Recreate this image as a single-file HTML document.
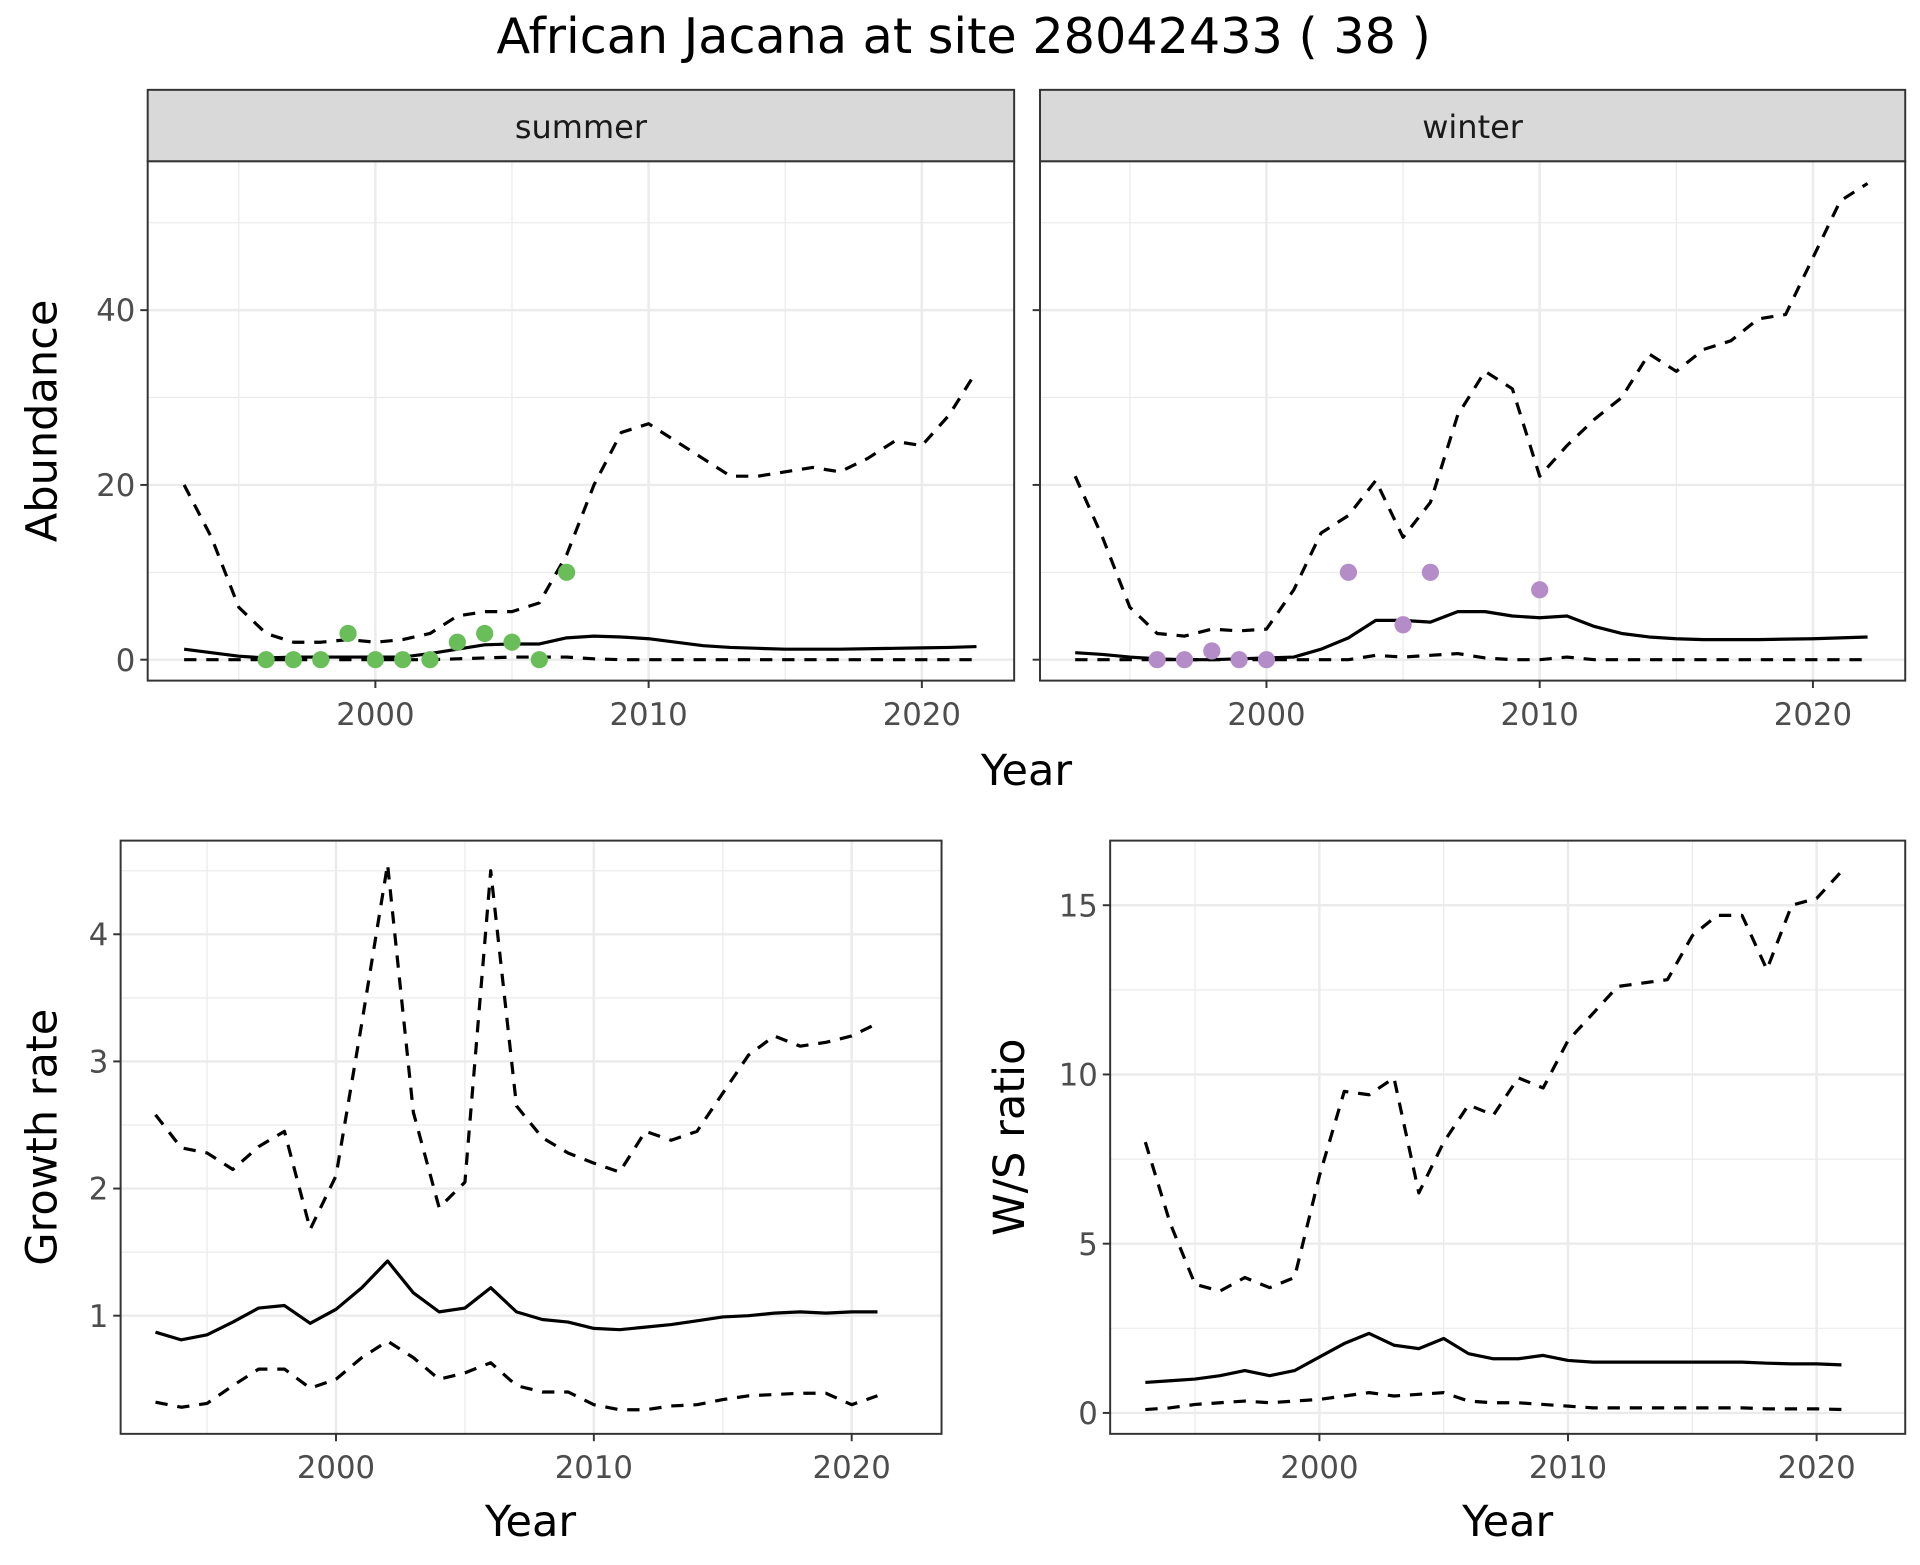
<!DOCTYPE html>
<html><head><meta charset="utf-8"><style>
body{margin:0;background:#fff}
svg text{font-family:"DejaVu Sans","Liberation Sans",sans-serif}
</style></head><body>
<svg id="s" width="1920" height="1560" viewBox="0 0 1560 1267.5" xmlns="http://www.w3.org/2000/svg">
<rect width="1560" height="1267.5" fill="#fff"/>
<text x="783" y="43" font-size="40" text-anchor="middle" fill="#000">African Jacana at site 28042433 ( 38 )</text>
</svg>
<script>
const S=document.getElementById('s');const NS='http://www.w3.org/2000/svg';
function el(t,a,txt){const e=document.createElementNS(NS,t);for(const k in a)e.setAttribute(k,a[k]);if(txt!==undefined)e.textContent=txt;S.appendChild(e);return e;}
function panel(p){
 const X=y=>p.x0+(y-p.xr[0])*p.xs, Y=v=>p.y0-(v-p.yr[0])*p.ys;
 el('rect',{x:p.L,y:p.T,width:p.R-p.L,height:p.B-p.T,fill:'#fff'});
 p.xmin.forEach(v=>el('line',{x1:X(v),x2:X(v),y1:p.T,y2:p.B,stroke:'#ebebeb','stroke-width':1}));
 p.ymin.forEach(v=>el('line',{y1:Y(v),y2:Y(v),x1:p.L,x2:p.R,stroke:'#ebebeb','stroke-width':1}));
 p.xmaj.forEach(v=>el('line',{x1:X(v),x2:X(v),y1:p.T,y2:p.B,stroke:'#ebebeb','stroke-width':2}));
 p.ymaj.forEach(v=>el('line',{y1:Y(v),y2:Y(v),x1:p.L,x2:p.R,stroke:'#ebebeb','stroke-width':2}));
 const yrs=p.yrs;
 const line=(d,dash)=>el('polyline',{points:d.map((v,i)=>X(yrs[i])+','+Y(v)).join(' '),fill:'none',stroke:'#000','stroke-width':2.6,'stroke-dasharray':dash?'10,8':'none','stroke-linejoin':'round'});
 const clip='c'+p.L;const cp=document.createElementNS(NS,'clipPath');cp.setAttribute('id',clip);const r=document.createElementNS(NS,'rect');r.setAttribute('x',p.L);r.setAttribute('y',p.T);r.setAttribute('width',p.R-p.L);r.setAttribute('height',p.B-p.T);cp.appendChild(r);S.appendChild(cp);
 [line(p.up,1),line(p.mid,0),line(p.lo,1)].forEach(e=>e.setAttribute('clip-path','url(#'+clip+')'));
 (p.pts||[]).forEach(q=>el('circle',{cx:X(q[0]),cy:Y(q[1]),r:7,fill:p.pc}));
 el('rect',{x:p.L,y:p.T,width:p.R-p.L,height:p.B-p.T,fill:'none',stroke:'#333','stroke-width':1.6});
 p.ymaj.forEach(v=>{el('line',{x1:p.L-6,x2:p.L,y1:Y(v),y2:Y(v),stroke:'#333','stroke-width':1.6});if(p.ylab)el('text',{x:p.L-10,y:Y(v)+9,'font-size':25,'text-anchor':'end',fill:'#4d4d4d'},v)});
 p.xmaj.forEach(v=>{el('line',{x1:X(v),x2:X(v),y1:p.B,y2:p.B+6,stroke:'#333','stroke-width':1.6});el('text',{x:X(v),y:p.B+36,'font-size':25,'text-anchor':'middle',fill:'#4d4d4d'},v)});
 if(p.strip){el('rect',{x:p.L,y:73,width:p.R-p.L,height:p.T-73,fill:'#d9d9d9',stroke:'#333','stroke-width':1.6});el('text',{x:(p.L+p.R)/2,y:112,'font-size':26,'text-anchor':'middle',fill:'#1a1a1a'},p.strip);}
}
const Y1=[];for(let y=1993;y<=2022;y++)Y1.push(y);
const Y2=[];for(let y=1993;y<=2021;y++)Y2.push(y);
const sUp=[20,14,6,3,2,2,2.3,2,2.3,3,5,5.5,5.5,6.5,12,20,26,27,25,23,21,21,21.5,22,21.5,23,25,24.5,28,33];
const sMid=[1.2,0.8,0.4,0.2,0.3,0.3,0.3,0.3,0.3,0.7,1.2,1.7,1.8,1.8,2.5,2.7,2.6,2.4,2.0,1.6,1.4,1.3,1.2,1.2,1.2,1.25,1.3,1.35,1.4,1.5];
const sLo=[0,0,0,0,0,0,0,0,0,0,0.1,0.2,0.3,0.3,0.3,0.1,0,0,0,0,0,0,0,0,0,0,0,0,0,0];
const wUp=[21,14,6,3,2.7,3.5,3.3,3.5,8,14.5,16.5,20.5,14,18,28,33,31,21,24.5,27.5,30,35,33,35.5,36.5,39,39.5,46,52.5,54.5];
const wMid=[0.8,0.6,0.3,0.1,0,0,0.1,0.2,0.3,1.2,2.5,4.5,4.5,4.3,5.5,5.5,5,4.8,5,3.8,3.0,2.6,2.4,2.3,2.3,2.3,2.35,2.4,2.5,2.6];
const wLo=[0,0,0,0,0,0,0,0,0,0,0,0.5,0.3,0.5,0.7,0.2,0,0,0.3,0,0,0,0,0,0,0,0,0,0,0];
const common={xs:22.2,xr:[2000,0],yr:[0,0],ys:7.1,y0:536,T:131,B:553,xmaj:[2000,2010,2020],xmin:[1995,2005,2015],ymaj:[0,20,40],ymin:[10,30,50],yrs:Y1};
panel(Object.assign({},common,{L:120,R:824,x0:305,up:sUp,mid:sMid,lo:sLo,pc:'#6abe5a',ylab:1,strip:'summer',pts:[[1996,0],[1997,0],[1998,0],[1999,3],[2000,0],[2001,0],[2002,0],[2003,2],[2004,3],[2005,2],[2006,0],[2007,10]]}));
panel(Object.assign({},common,{L:845,R:1548,x0:1029,up:wUp,mid:wMid,lo:wLo,pc:'#b48cc8',ylab:0,strip:'winter',pts:[[1996,0],[1997,0],[1998,1],[1999,0],[2000,0],[2003,10],[2005,4],[2006,10],[2010,8]]}));
el('text',{x:834,y:638,'font-size':35,'text-anchor':'middle'},'Year');
el('text',{x:0,y:0,'font-size':35,'text-anchor':'middle',transform:'translate(46,342) rotate(-90)'},'Abundance');
const gUp=[2.58,2.32,2.28,2.15,2.33,2.45,1.68,2.1,3.3,4.55,2.6,1.85,2.05,4.5,2.65,2.4,2.28,2.2,2.13,2.45,2.38,2.45,2.75,3.05,3.2,3.12,3.15,3.2,3.3];
const gMid=[0.87,0.81,0.85,0.95,1.06,1.08,0.94,1.05,1.22,1.43,1.18,1.03,1.06,1.22,1.03,0.97,0.95,0.90,0.89,0.91,0.93,0.96,0.99,1.00,1.02,1.03,1.02,1.03,1.03];
const gLo=[0.32,0.28,0.31,0.45,0.58,0.58,0.43,0.5,0.67,0.8,0.67,0.5,0.55,0.63,0.45,0.4,0.4,0.3,0.26,0.26,0.29,0.3,0.34,0.37,0.38,0.39,0.39,0.3,0.37];
panel({L:98,R:765,T:683,B:1165,x0:273,xr:[2000],xs:20.95,y0:1069,yr:[1],ys:103.3,xmaj:[2000,2010,2020],xmin:[1995,2005,2015],ymaj:[1,2,3,4],ymin:[1.5,2.5,3.5,4.5],yrs:Y2,up:gUp,mid:gMid,lo:gLo,ylab:1});
el('text',{x:431,y:1248,'font-size':35,'text-anchor':'middle'},'Year');
el('text',{x:0,y:0,'font-size':35,'text-anchor':'middle',transform:'translate(46,924) rotate(-90)'},'Growth rate');
const rUp=[8,5.6,3.8,3.6,4.0,3.7,4.0,7,9.5,9.4,9.9,6.5,8.0,9.1,8.8,9.9,9.6,11.0,11.8,12.6,12.7,12.8,14.1,14.7,14.7,13.1,15.0,15.2,16.0];
const rMid=[0.9,0.95,1.0,1.1,1.25,1.1,1.25,1.65,2.05,2.35,2.0,1.9,2.2,1.75,1.6,1.6,1.7,1.55,1.5,1.5,1.5,1.5,1.5,1.5,1.5,1.47,1.45,1.45,1.42];
const rLo=[0.1,0.15,0.25,0.3,0.35,0.3,0.35,0.4,0.5,0.6,0.5,0.55,0.6,0.35,0.3,0.3,0.25,0.2,0.15,0.15,0.15,0.15,0.15,0.15,0.15,0.12,0.12,0.12,0.1];
panel({L:902,R:1548,T:683,B:1165,x0:1072,xr:[2000],xs:20.2,y0:1148,yr:[0],ys:27.5,xmaj:[2000,2010,2020],xmin:[1995,2005,2015],ymaj:[0,5,10,15],ymin:[2.5,7.5,12.5],yrs:Y2,up:rUp,mid:rMid,lo:rLo,ylab:1});
el('text',{x:1225,y:1248,'font-size':35,'text-anchor':'middle'},'Year');
el('text',{x:0,y:0,'font-size':35,'text-anchor':'middle',transform:'translate(832,924) rotate(-90)'},'W/S ratio');
</script>
</body></html>
